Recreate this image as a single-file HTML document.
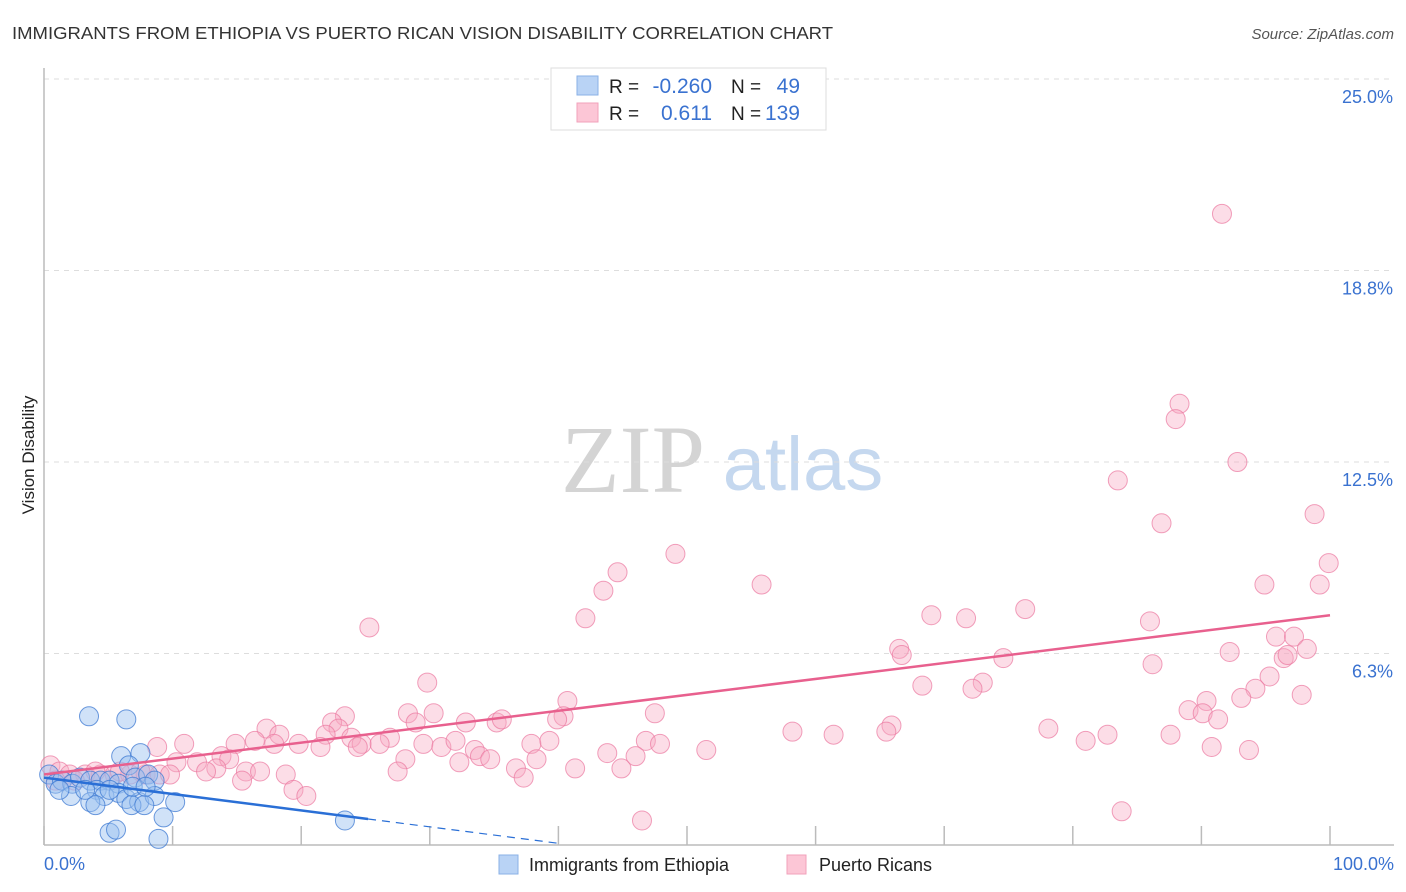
<!DOCTYPE html>
<html><head><meta charset="utf-8"><style>
body{margin:0;background:#fff;font-family:"Liberation Sans",sans-serif;}
svg{display:block}
</style></head><body>
<svg id="chart" width="1406" height="892">
<text x="12" y="39" font-size="17.5" fill="#333" textLength="821" lengthAdjust="spacingAndGlyphs">IMMIGRANTS FROM ETHIOPIA VS PUERTO RICAN VISION DISABILITY CORRELATION CHART</text>
<text x="1394" y="39" font-size="15" fill="#555" text-anchor="end" font-style="italic">Source: ZipAtlas.com</text>
<text x="34" y="455" font-size="17" fill="#222" transform="rotate(-90 34 455)" text-anchor="middle">Vision Disability</text>
<g>
<text x="633" y="492" font-family="Liberation Serif,serif" font-size="96" fill="#d4d4d4" text-anchor="middle">ZIP</text>
<text x="803" y="490" font-size="76" fill="#c5d8ef" text-anchor="middle">atlas</text>
</g>
<g id="grid"></g>
<g id="axes"></g>
<g id="marks"></g>
<g>
<rect x="551" y="68" width="275" height="62" fill="#fff" stroke="#ddd"/>
<rect x="577" y="76" width="21" height="19" fill="#b9d3f5" stroke="#8ab0e6"/>
<rect x="577" y="103" width="21" height="19" fill="#fcc6d6" stroke="#f2a1bb"/>
<text x="609" y="93" font-size="19" fill="#222">R =</text>
<text x="712" y="93" font-size="21" fill="#3a72d0" text-anchor="end">-0.260</text>
<text x="731" y="93" font-size="19" fill="#222">N =</text>
<text x="800" y="93" font-size="21" fill="#3a72d0" text-anchor="end">49</text>
<text x="609" y="120" font-size="19" fill="#222">R =</text>
<text x="712" y="120" font-size="21" fill="#3a72d0" text-anchor="end">0.611</text>
<text x="731" y="120" font-size="19" fill="#222">N =</text>
<text x="800" y="120" font-size="21" fill="#3a72d0" text-anchor="end">139</text>
</g>
<g>
<rect x="499" y="855" width="19" height="19" fill="#b9d3f5" stroke="#8ab0e6"/>
<text x="529" y="871" font-size="18" fill="#222">Immigrants from Ethiopia</text>
<rect x="787" y="855" width="19" height="19" fill="#fcc6d6" stroke="#f2a1bb"/>
<text x="819" y="871" font-size="18" fill="#222">Puerto Ricans</text>
</g>
</svg>
<script>
const yTicks=[25,18.75,12.5,6.25];
const yTickLabels=["25.0%","18.8%","12.5%","6.3%"];
const xTicks=[0,10,20,30,40,50,60,70,80,90,100];
const pinkX=[91.6,88.3,88.0,92.8,83.5,86.9,98.8,99.9,49.1,44.6,43.5,55.8,94.9,99.2,42.1,69.0,71.7,76.3,86.0,25.3,95.8,97.2,98.2,66.5,66.7,74.6,92.2,96.4,96.7,86.2,95.3,29.8,68.3,73.0,72.2,94.2,93.1,97.8,40.7,90.4,89.0,90.1,91.3,47.5,40.4,39.9,28.3,30.3,23.4,22.4,28.9,32.8,35.2,35.6,65.9,65.5,17.3,78.1,58.2,61.4,81.0,82.7,87.6,22.9,21.9,18.3,23.9,26.9,8.8,10.9,14.9,16.4,17.9,19.8,21.5,24.7,26.1,24.4,29.5,30.9,32.0,37.9,39.3,46.8,47.9,51.5,90.8,93.7,43.8,46.0,33.5,33.9,34.7,38.3,28.1,32.3,13.8,14.4,11.9,10.3,13.4,15.7,16.8,27.5,36.7,41.3,44.9,12.6,18.8,15.4,37.3,19.4,20.4,46.5,83.8,0.5,1.2,2.0,3.2,4.4,5.5,6.7,7.9,9.0,9.8,4.0,5.9,7.5,0.9,2.4];
const pinkY=[20.6,14.4,13.9,12.5,11.9,10.5,10.8,9.2,9.5,8.9,8.3,8.5,8.5,8.5,7.4,7.5,7.4,7.7,7.3,7.1,6.8,6.8,6.4,6.4,6.2,6.1,6.3,6.1,6.2,5.9,5.5,5.3,5.2,5.3,5.1,5.1,4.8,4.9,4.7,4.7,4.4,4.3,4.1,4.3,4.2,4.1,4.3,4.3,4.2,4.0,4.0,4.0,4.0,4.1,3.9,3.7,3.8,3.8,3.7,3.6,3.4,3.6,3.6,3.8,3.6,3.6,3.5,3.5,3.2,3.3,3.3,3.4,3.3,3.3,3.2,3.3,3.3,3.2,3.3,3.2,3.4,3.3,3.4,3.4,3.3,3.1,3.2,3.1,3.0,2.9,3.1,2.9,2.8,2.8,2.8,2.7,2.9,2.8,2.7,2.7,2.5,2.4,2.4,2.4,2.5,2.5,2.5,2.4,2.3,2.1,2.2,1.8,1.6,0.8,1.1,2.6,2.4,2.3,2.3,2.3,2.3,2.3,2.3,2.3,2.3,2.4,2.4,2.4,2.1,2.1];
const blueX=[3.5,6.4,6.0,7.5,6.6,0.4,0.9,1.4,2.2,2.8,3.6,4.4,5.1,5.8,7.1,8.1,8.6,2.1,4.1,4.7,5.8,6.4,7.4,8.6,10.2,3.6,4.0,6.8,7.8,9.3,5.1,5.6,8.9,23.4,6.9,1.2,3.2,5.1,7.9];
const blueY=[4.2,4.1,2.9,3.0,2.6,2.3,2.0,2.1,2.0,2.2,2.1,2.1,2.1,2.0,2.2,2.3,2.1,1.6,1.8,1.6,1.7,1.5,1.4,1.6,1.4,1.4,1.3,1.3,1.3,0.9,0.4,0.5,0.2,0.8,1.9,1.8,1.8,1.8,1.9];
const pinkLine=[2.3,7.5];
const blueLine=[2.2,-0.0536];
const X0=44,X1=1330,Y0=845,Ytop=79;
const sx=v=>X0+(X1-X0)*v/100;
const sy=v=>Y0-(Y0-Ytop)*v/25;
const NS="http://www.w3.org/2000/svg";
function mk(tag,attrs,parent){const e=document.createElementNS(NS,tag);for(const k in attrs)e.setAttribute(k,attrs[k]);parent.appendChild(e);return e;}
const grid=document.getElementById('grid'),axes=document.getElementById('axes'),marks=document.getElementById('marks');
yTicks.forEach((t,i)=>{
 const l=mk('line',{x1:X0,x2:1394,y1:sy(t),y2:sy(t),stroke:'#ddd','stroke-dasharray':'5,5'},grid);
 
 
 const tx=mk('text',{x:1393,y:sy(t)+24,'font-size':18,fill:'#3a72d0','text-anchor':'end'},grid);
 tx.textContent=yTickLabels[i];
 
 
});
const ya=mk('line',{x1:X0,x2:X0,y1:68,y2:Y0,stroke:'#bbb','stroke-width':1.5},axes);


const xa=mk('line',{x1:X0,x2:1394,y1:Y0,y2:Y0,stroke:'#bbb','stroke-width':1.5},axes);


xTicks.forEach(t=>{
 const l=mk('line',{x1:sx(t),x2:sx(t),y1:826,y2:Y0,stroke:'#bbb','stroke-width':1.5},axes);
 
 
});
const xl0=mk('text',{x:44,y:870,'font-size':18,fill:'#3a72d0'},axes);xl0.textContent='0.0%';


const xl1=mk('text',{x:1394,y:870,'font-size':18,fill:'#3a72d0','text-anchor':'end'},axes);xl1.textContent='100.0%';


pinkX.forEach((x,i)=>{
 const c=mk('circle',{cx:sx(x),cy:sy(pinkY[i]),r:9.5,fill:'rgba(248,170,195,0.4)',stroke:'rgba(235,120,160,0.7)','stroke-width':1},marks);
 
 
});
blueX.forEach((x,i)=>{
 const c=mk('circle',{cx:sx(x),cy:sy(blueY[i]),r:9.5,fill:'rgba(150,190,240,0.45)',stroke:'rgba(60,120,210,0.75)','stroke-width':1},marks);
 
 
});
const pl=mk('line',{x1:sx(0),y1:sy(pinkLine[0]),x2:sx(100),y2:sy(pinkLine[1]),stroke:'#e8608e','stroke-width':2.5},marks);


const bEnd=25.2,bZero=-blueLine[0]/blueLine[1]-1;
const bl=mk('line',{x1:sx(0),y1:sy(blueLine[0]),x2:sx(bEnd),y2:sy(blueLine[0]+blueLine[1]*bEnd),stroke:'#2a6fd6','stroke-width':2.5},marks);


const bd=mk('line',{x1:sx(bEnd),y1:sy(blueLine[0]+blueLine[1]*bEnd),x2:sx(bZero),y2:sy(blueLine[0]+blueLine[1]*bZero),stroke:'#2a6fd6','stroke-width':1.2,'stroke-dasharray':'8,6'},marks);


</script>
</body></html>
